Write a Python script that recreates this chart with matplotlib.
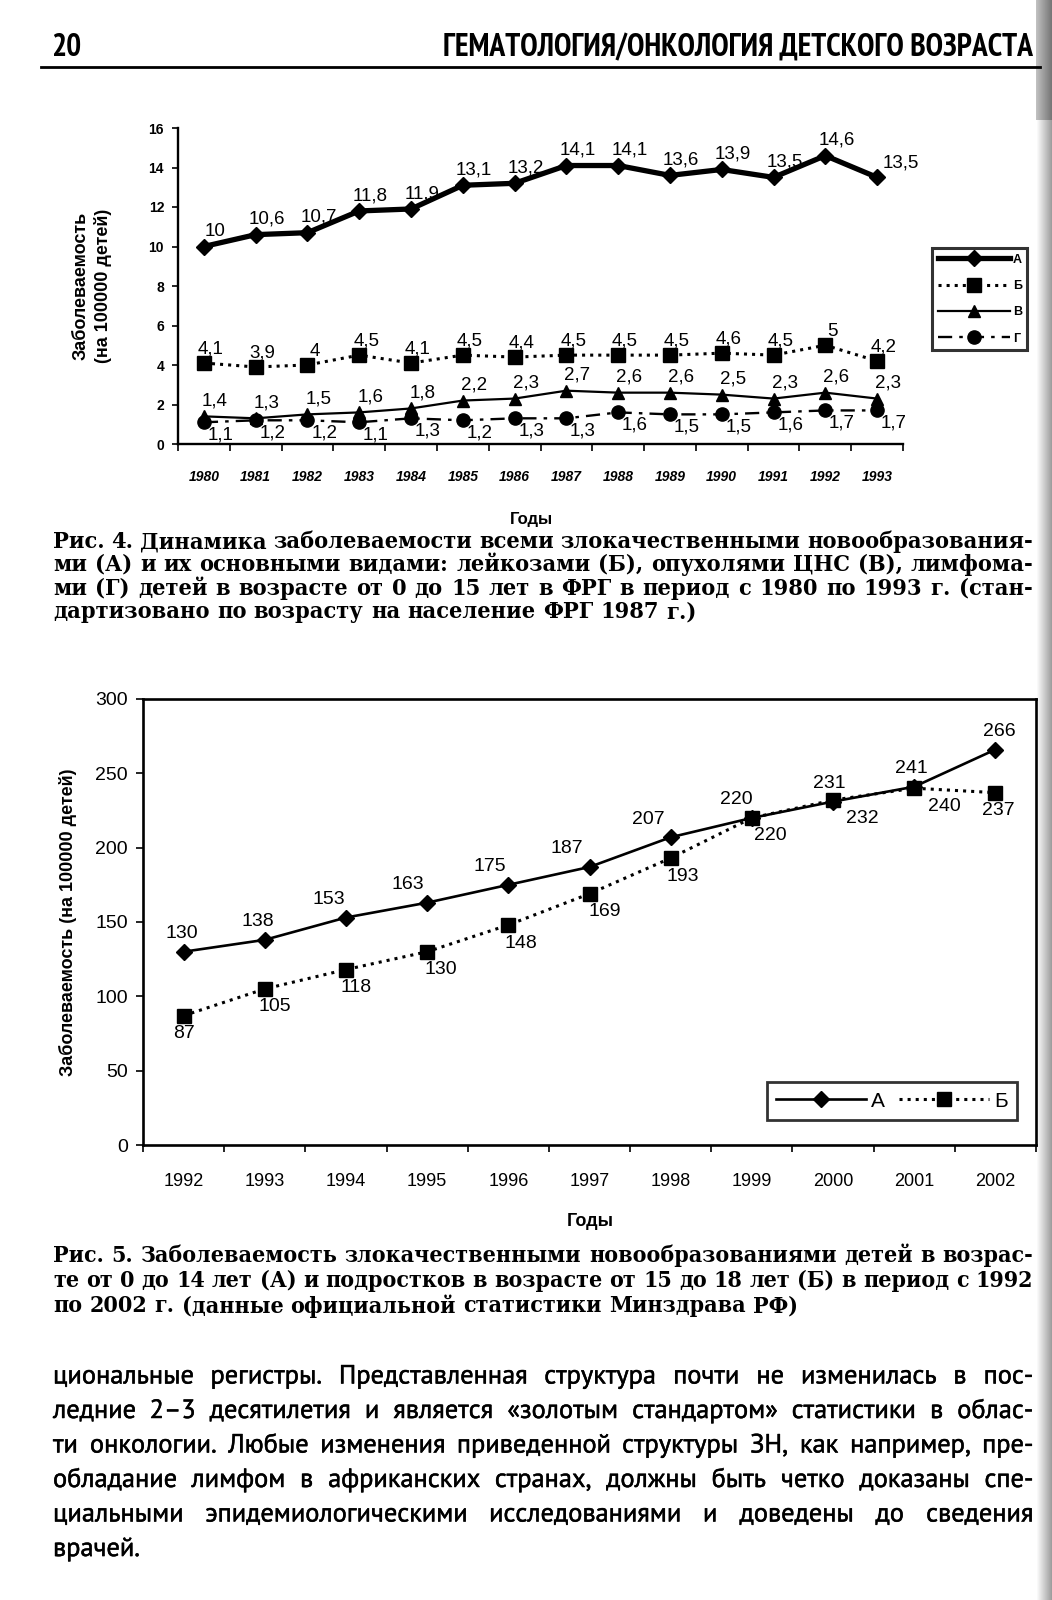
import matplotlib
matplotlib.use("Agg")
import matplotlib.pyplot as plt
import matplotlib.patheffects as pe
import numpy as np

W, H = 1052, 1600

# --- Рис. 4 (ФРГ, 1980-1993) ---
years4 = ["1980", "1981", "1982", "1983", "1984", "1985", "1986",
          "1987", "1988", "1989", "1990", "1991", "1992", "1993"]
a4 = [10, 10.6, 10.7, 11.8, 11.9, 13.1, 13.2, 14.1, 14.1, 13.6, 13.9, 13.5, 14.6, 13.5]
b4 = [4.1, 3.9, 4, 4.5, 4.1, 4.5, 4.4, 4.5, 4.5, 4.5, 4.6, 4.5, 5, 4.2]
v4 = [1.4, 1.3, 1.5, 1.6, 1.8, 2.2, 2.3, 2.7, 2.6, 2.6, 2.5, 2.3, 2.6, 2.3]
g4 = [1.1, 1.2, 1.2, 1.1, 1.3, 1.2, 1.3, 1.3, 1.6, 1.5, 1.5, 1.6, 1.7, 1.7]

# --- Рис. 5 (РФ, 1992-2002) ---
years5 = ["1992", "1993", "1994", "1995", "1996", "1997",
          "1998", "1999", "2000", "2001", "2002"]
a5 = [130, 138, 153, 163, 175, 187, 207, 220, 231, 241, 266]
b5 = [87, 105, 118, 130, 148, 169, 193, 220, 232, 240, 237]
# horizontal shift of the value labels (points), as placed in the book
a5_dx = [-1, -5, -12, -14, -13, -16, -16, -11, -3, -2, 3]
b5_dx = [0, 7, 7, 10, 9, 11, 9, 13, 21, 22, 2]

cap4 = ["Рис. 4. Динамика заболеваемости всеми злокачественными новообразования-",
        "ми (А) и их основными видами: лейкозами (Б), опухолями ЦНС (В), лимфома-",
        "ми (Г) детей в возрасте от 0 до 15 лет в ФРГ в период с 1980 по 1993 г. (стан-",
        "дартизовано по возрасту на население ФРГ 1987 г.)"]
cap5 = ["Рис. 5. Заболеваемость злокачественными новообразованиями детей в возрас-",
        "те от 0 до 14 лет (А) и подростков в возрасте от 15 до 18 лет (Б) в период с 1992",
        "по 2002 г. (данные официальной статистики Минздрава РФ)"]
body = ["циональные регистры. Представленная структура почти не изменилась в пос-",
        "ледние 2–3 десятилетия и является «золотым стандартом» статистики в облас-",
        "ти онкологии. Любые изменения приведенной структуры ЗН, как например, пре-",
        "обладание лимфом в африканских странах, должны быть четко доказаны спе-",
        "циальными эпидемиологическими исследованиями и доведены до сведения",
        "врачей."]

fig = plt.figure(figsize=(W / 100, H / 100), dpi=100)
fig.patch.set_facecolor("white")
rend = fig.canvas.get_renderer()

SANS = ["Liberation Sans", "DejaVu Sans"]
NARROW = ["PT Sans Narrow", "Roboto Condensed", "Liberation Sans", "DejaVu Sans"]
SERIF = ["DejaVu Serif", "Liberation Serif"]
BODY = ["PT Sans", "Open Sans", "DejaVu Sans"]
ink = [pe.withStroke(linewidth=0.35, foreground="black")]


def fmt(v):
    return ("%g" % v).replace(".", ",")


def text_width(s, **kw):
    t = fig.text(0, 0, s, **kw)
    w = t.get_window_extent(rend).width
    t.remove()
    return w


def paragraph(lines, x0, x1, ys, size, last_free=True, **kw):
    # one size for the block, so that no justified line overflows
    full = lines[:-1] if last_free else lines
    nat = max(text_width(l, fontsize=size, **kw) for l in full)
    size = size * min(1.0, (x1 - x0) / nat)
    space = text_width("a b", fontsize=size, **kw) - text_width("ab", fontsize=size, **kw)
    for i, (line, y) in enumerate(zip(lines, ys)):
        words = line.split(" ")
        arts = [fig.text(0, 1 - y / H, w, fontsize=size, va="center", ha="left", **kw)
                for w in words]
        ws = [a.get_window_extent(rend).width for a in arts]
        if last_free and i == len(lines) - 1:
            gap = space
        else:
            gap = ((x1 - x0) - sum(ws)) / max(len(words) - 1, 1)
        x = x0
        for a, w in zip(arts, ws):
            a.set_x(x / W)
            x += w + gap


# page shadow at the right edge of the scan
sh = fig.add_axes([1036 / W, 0, 16 / W, 1])
grad = np.linspace(1.0, 0.62, 16)[None, :].repeat(160, 0)
grad[:12] = grad[:12] * 0.75
sh.imshow(grad, cmap="gray", vmin=0, vmax=1, aspect="auto", extent=(0, 1, 0, 1))
sh.axis("off")

# header
hdr = "ГЕМАТОЛОГИЯ/ОНКОЛОГИЯ ДЕТСКОГО ВОЗРАСТА"
hs = 24 * min(1.0, 594 / text_width(hdr, fontsize=24, fontweight="bold", family=NARROW))
fig.text(51 / W, 1 - 48 / H, "20", fontsize=hs, fontweight="bold", family=NARROW,
         va="center", ha="left")
fig.text(1033 / W, 1 - 48 / H, hdr, fontsize=hs, fontweight="bold", family=NARROW,
         va="center", ha="right")
fig.add_artist(plt.Line2D([41 / W, 1040 / W], [1 - 67 / H, 1 - 67 / H], color="black", lw=2))

# ---------------- chart 1 ----------------
ax1 = fig.add_axes([178 / W, 1 - 444 / H, 725 / W, 316 / H])
x4 = np.arange(len(years4))
ax1.plot(x4, a4, "-", color="black", lw=3.8, marker="D", ms=8, label="А")
ax1.plot(x4, b4, ":", color="black", lw=2.2, marker="s", ms=9.5, label="Б")
ax1.plot(x4, v4, "-", color="black", lw=1.6, marker="^", ms=9, label="В")
ax1.plot(x4, g4, linestyle=(0, (6, 3, 1.5, 3)), color="black", lw=1.7, marker="o", ms=9.5,
         label="Г")

lab_kw = dict(textcoords="offset points", fontsize=13.5, family=SANS, ha="center", va="center")
for i in range(len(x4)):
    ax1.annotate(fmt(a4[i]), (x4[i], a4[i]), xytext=(8, 11) if i < 13 else (17, 10), **lab_kw)
    ax1.annotate(fmt(b4[i]), (x4[i], b4[i]), xytext=(5, 10), **lab_kw)
    ax1.annotate(fmt(v4[i]), (x4[i], v4[i]), xytext=(8, 11), **lab_kw)
    ax1.annotate(fmt(g4[i]), (x4[i], g4[i]), xytext=(12, -9), **lab_kw)

ax1.set_xlim(-0.5, 13.5)
ax1.set_ylim(0, 16)
ax1.set_yticks(range(0, 17, 2))
ax1.set_xticks(x4)
ax1.set_xticklabels(years4, fontsize=10, fontstyle="italic", fontweight="bold", family=SANS)
ax1.set_xticks(np.arange(-0.5, 14, 1), minor=True)
ax1.tick_params(axis="x", which="major", length=0, pad=19)
ax1.tick_params(axis="x", which="minor", length=5, width=1.2, direction="out")
ax1.tick_params(axis="y", length=4, width=1.2, labelsize=10, pad=6)
for t in ax1.get_yticklabels():
    t.set_fontweight("bold")
    t.set_family(SANS)
for s in ("top", "right"):
    ax1.spines[s].set_visible(False)
for s in ("left", "bottom"):
    ax1.spines[s].set_linewidth(1.7)
ax1.set_ylabel("Заболеваемость\n(на 100000 детей)", fontsize=13, fontweight="bold",
               family=SANS, linespacing=1.3)
ax1.yaxis.set_label_coords(-0.091, 0.5)
leg1 = ax1.legend(loc="upper left", bbox_to_anchor=(1.04, 0.62), frameon=True,
                  fancybox=False, edgecolor="black", handlelength=5.8,
                  borderpad=0.45, labelspacing=1.15, handletextpad=0.2, borderaxespad=0,
                  prop=dict(family=SANS, weight="bold", size=9))
leg1.get_frame().set_linewidth(2.2)
fig.text(531 / W, 1 - 519 / H, "Годы", fontsize=12, fontweight="bold", family=SANS,
         ha="center", va="center")

paragraph(cap4, 53, 1033, [542, 565, 589, 612], 17.5, fontweight="bold",
          fontstretch="condensed", family=SERIF)

# ---------------- chart 2 ----------------
ax2 = fig.add_axes([143 / W, 1 - 1145 / H, 893 / W, 446 / H])
x5 = np.arange(len(years5))
ax2.plot(x5, a5, "-", color="black", lw=1.9, marker="D", ms=8, label="А")
ax2.plot(x5, b5, ":", color="black", lw=2.2, marker="s", ms=10, label="Б")
lab_kw2 = dict(textcoords="offset points", fontsize=14, family=SANS, ha="center", va="center")
for i in range(len(x5)):
    ax2.annotate(str(a5[i]), (x5[i], a5[i]), xytext=(a5_dx[i], 13), **lab_kw2)
    ax2.annotate(str(b5[i]), (x5[i], b5[i]), xytext=(b5_dx[i], -13), **lab_kw2)

ax2.set_xlim(-0.5, 10.5)
ax2.set_ylim(0, 300)
ax2.set_yticks(range(0, 301, 50))
ax2.set_xticks(x5)
ax2.set_xticklabels(years5, fontsize=13, family=SANS)
ax2.set_xticks(np.arange(-0.5, 11, 1), minor=True)
ax2.tick_params(axis="x", which="major", length=0, pad=20)
ax2.tick_params(axis="x", which="minor", length=5, width=1.2, direction="out")
ax2.tick_params(axis="y", length=5, width=1.2, labelsize=14, pad=6)
for t in ax2.get_yticklabels():
    t.set_family(SANS)
for s in ax2.spines.values():
    s.set_linewidth(1.9)
ax2.set_ylabel("Заболеваемость (на 100000 детей)", fontsize=13, fontweight="bold",
               family=SANS)
ax2.yaxis.set_label_coords(-0.074, 0.5)
leg2 = ax2.legend(loc="lower right", bbox_to_anchor=(0.979, 0.056), ncol=2, frameon=True,
                  fancybox=False, edgecolor="black", handlelength=4.3, columnspacing=0.7,
                  handletextpad=0.25, borderpad=0.45, borderaxespad=0,
                  prop=dict(family=SANS, size=15))
leg2.get_frame().set_linewidth(2)
fig.text(590 / W, 1 - 1222 / H, "Годы", fontsize=13, fontweight="bold", family=SANS,
         ha="center", va="center")

paragraph(cap5, 53, 1033, [1256, 1281, 1306], 17.5, fontweight="bold",
          fontstretch="condensed", family=SERIF)

paragraph(body, 53, 1033, [1377, 1411.5, 1446, 1480.5, 1515, 1549.5], 19, family=BODY,
          path_effects=ink)

fig.savefig("out.png", dpi=100, facecolor="white")
